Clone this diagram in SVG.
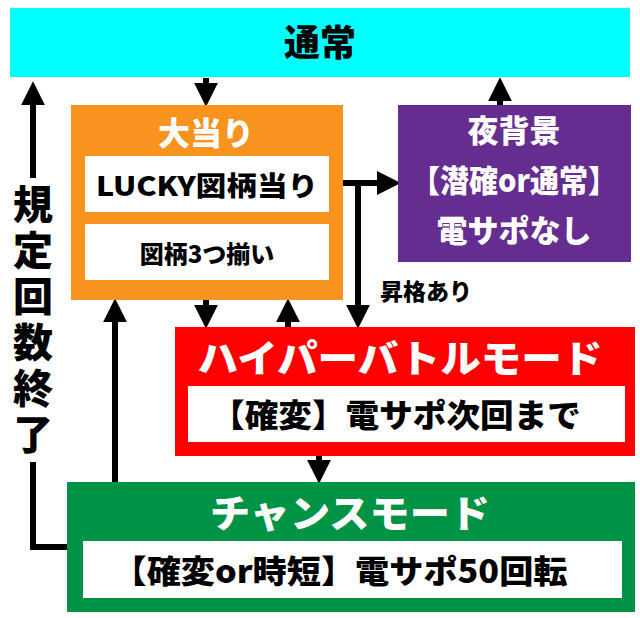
<svg xmlns="http://www.w3.org/2000/svg" width="640" height="618" viewBox="0 0 640 618">
<style>
text{font-family:"Noto Sans CJK JP","Noto Sans",sans-serif;font-weight:900;text-anchor:middle}
.w{fill:#fff}.k{fill:#000}
.ln{stroke:#000;stroke-width:6;fill:none}
</style>
<defs><marker id="a" markerWidth="4" markerHeight="4" refX="2.2" refY="2" orient="auto" markerUnits="strokeWidth"><path d="M0,0L4,2L0,4z" fill="#000"/></marker></defs>
<g id="connectors">
<path class="ln" d="M206,78V96" marker-end="url(#a)"/>
<path class="ln" d="M500,105V88" marker-end="url(#a)"/>
<path class="ln" d="M329,183H390" marker-end="url(#a)"/>
<path class="ln" d="M358,183V318" marker-end="url(#a)"/>
<path class="ln" d="M206,280V318" marker-end="url(#a)"/>
<path class="ln" d="M288,327V309" marker-end="url(#a)"/>
<path class="ln" d="M319,456V473" marker-end="url(#a)"/>
<path class="ln" d="M115,482V309" marker-end="url(#a)"/>
<path class="ln" d="M67,547H33V462"/>
<path class="ln" d="M33,178V92" marker-end="url(#a)"/>
<text x="426" y="300" font-size="23" class="k">昇格あり</text>
<text x="33" y="184" font-size="40" writing-mode="vertical-rl" letter-spacing="6" style="text-anchor:start" class="k">規定回数終了</text>
</g>
<g id="normal"><rect x="10" y="8" width="620" height="69" fill="#00ffff"/><text x="320" y="56" font-size="36" class="k">通常</text></g>
<g id="ooatari"><rect x="71" y="105" width="272" height="195" fill="#f7931e"/><text x="206" y="145" font-size="32" class="w">大当り</text>
<rect x="85" y="156" width="244" height="56" fill="#fff"/><text x="207" y="196" font-size="27" textLength="222" lengthAdjust="spacingAndGlyphs" class="k">LUCKY図柄当り</text>
<rect x="85" y="224" width="244" height="56" fill="#fff"/><text x="207" y="263" font-size="24" class="k">図柄3つ揃い</text></g>
<g id="night"><rect x="398" y="105" width="233" height="157" fill="#662d91"/>
<text x="514" y="142" font-size="31" class="w">夜背景</text><text x="514" y="192" font-size="31" textLength="206" lengthAdjust="spacingAndGlyphs" class="w">【潜確or通常】</text><text x="514" y="242" font-size="31" class="w">電サポなし</text></g>
<g id="hyper"><rect x="175" y="327" width="460" height="129" fill="#ff0000"/><text x="400" y="372" font-size="38" textLength="405" lengthAdjust="spacingAndGlyphs" class="w">ハイパーバトルモード</text>
<rect x="188" y="386" width="437" height="56" fill="#fff"/><text x="396" y="427" font-size="32" textLength="370" lengthAdjust="spacingAndGlyphs" class="k">【確変】電サポ次回まで</text></g>
<g id="chance"><rect x="67" y="482" width="568" height="130" fill="#009245"/><text x="350" y="527" font-size="38" textLength="280" lengthAdjust="spacingAndGlyphs" class="w">チャンスモード</text>
<rect x="83" y="541" width="539" height="57" fill="#fff"/><text x="340" y="583" font-size="32" textLength="455" lengthAdjust="spacingAndGlyphs" class="k">【確変or時短】電サポ50回転</text></g>
</svg>
